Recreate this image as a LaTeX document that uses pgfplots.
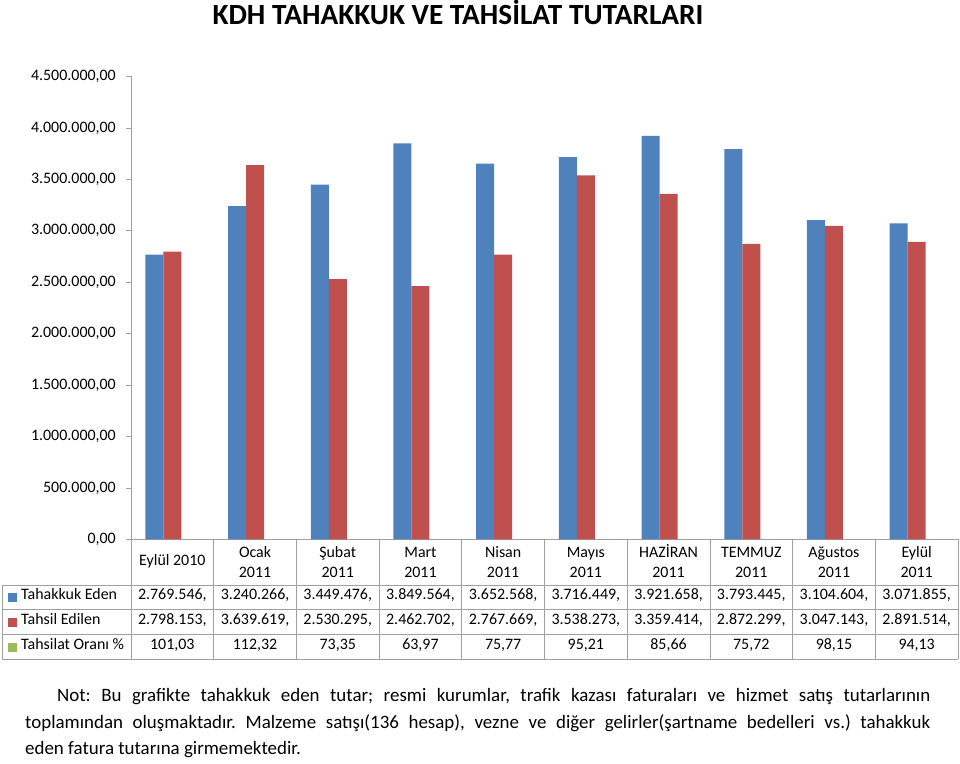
\documentclass[border=0pt]{standalone}
\usepackage{fontspec}
\setmainfont{Carlito}
\usepackage{pgfplots}
\pgfplotsset{compat=1.18}
\usepackage{pgfplotstable}
\definecolor{cblue}{HTML}{4F81BD}
\definecolor{cred}{HTML}{C0504D}
\definecolor{cgreen}{HTML}{9BBB59}
\definecolor{lgray}{HTML}{A0A0A0}

\pgfplotstableread{
x tahakkuk tahsil oran
0 2769546 2798153 101.03
1 3240266 3639619 112.32
2 3449476 2530295 73.35
3 3849564 2462702 63.97
4 3652568 2767669 75.77
5 3716449 3538273 95.21
6 3921658 3359414 85.66
7 3793445 2872299 75.72
8 3104604 3047143 98.15
9 3071855 2891514 94.13
}\data

\begin{document}
\frenchspacing
\begin{tikzpicture}[x=1bp,y=1bp]
\path (0,0) rectangle (960,761);
\node[anchor=base, inner sep=0pt, font=\fontsize{29.4}{35}\selectfont\bfseries] at (458,739) {KDH TAHAKKUK VE TAHSİLAT TUTARLARI};
\begin{axis}[
  at={(131bp,224bp)}, anchor=south west,
  scale only axis, width=827bp, height=463bp,
  ymin=0, ymax=4500000, xmin=-0.5, xmax=9.5,
  ytick={0,500000,1000000,1500000,2000000,2500000,3000000,3500000,4000000,4500000},
  xtick=\empty,
  axis x line=bottom, axis y line=left,
  axis line style={draw=lgray, line width=0.8bp, -},
  tick style={draw=lgray, line width=0.8bp},
  tick align=outside, major tick length=5bp,
  scaled y ticks=false,
  yticklabel style={font=\fontsize{16}{19}\selectfont, inner sep=0pt, xshift=-10bp},
  /pgf/number format/.cd, fixed, fixed zerofill, precision=2, use comma, 1000 sep={.}, assume math mode=true,
  /pgfplots/.cd,
  ybar=0pt, bar width=18bp,
  clip=false,
]
\addplot[fill=cblue, draw=none] table[x=x, y=tahakkuk] {\data};
\addplot[fill=cred, draw=none] table[x=x, y=tahsil] {\data};
\addplot[fill=cgreen, draw=none] table[x=x, y=oran] {\data};
\end{axis}
% data table grid
\begin{scope}[lgray, line width=0.8bp]
\foreach \k in {0,...,10} { \draw ({131+\k*82.7},224) -- ({131+\k*82.7},104); }
\draw (2,178) -- (957.7,178);
\draw (2,154) -- (957.7,154);
\draw (2,129) -- (957.7,129);
\draw (2,104) -- (957.7,104);
\draw (2,178) -- (2,104);
\end{scope}
\begin{scope}[font=\fontsize{16}{19.5}\selectfont, inner sep=0pt]
\node[anchor=mid] at ({131+0.5*82.7},200) {Eylül 2010};
\foreach \i/\h in {1/Ocak,2/Şubat,3/Mart,4/Nisan,5/Mayıs,6/HAZİRAN,7/TEMMUZ,8/Ağustos,9/Eylül}
  { \node[anchor=base] at ({131+(\i+0.5)*82.7},206) {\h};
    \node[anchor=base] at ({131+(\i+0.5)*82.7},185.5) {2011}; }
\foreach \i/\v in {0/{2.769.546,},1/{3.240.266,},2/{3.449.476,},3/{3.849.564,},4/{3.652.568,},5/{3.716.449,},6/{3.921.658,},7/{3.793.445,},8/{3.104.604,},9/{3.071.855,}}
  { \node[anchor=mid] at ({131+(\i+0.5)*82.7},166) {\v}; }
\foreach \i/\v in {0/{2.798.153,},1/{3.639.619,},2/{2.530.295,},3/{2.462.702,},4/{2.767.669,},5/{3.538.273,},6/{3.359.414,},7/{2.872.299,},8/{3.047.143,},9/{2.891.514,}}
  { \node[anchor=mid] at ({131+(\i+0.5)*82.7},141) {\v}; }
\foreach \i/\v in {0/{101,03},1/{112,32},2/{73,35},3/{63,97},4/{75,77},5/{95,21},6/{85,66},7/{75,72},8/{98,15},9/{94,13}}
  { \node[anchor=mid] at ({131+(\i+0.5)*82.7},116) {\v}; }
\fill[cblue] (7.5,161.5) rectangle (16.5,170.5);
\fill[cred] (7.5,136.5) rectangle (16.5,145.5);
\fill[cgreen] (7.5,111.5) rectangle (16.5,120.5);
\node[anchor=mid west] at (21,166) {Tahakkuk Eden};
\node[anchor=mid west] at (21,141) {Tahsil Edilen};
\node[anchor=mid west] at (21,116) {Tahsilat Oranı \%};
\end{scope}
% note
\begin{scope}[font=\fontsize{19}{23}\selectfont, inner sep=0pt]
\node[anchor=base west] at (57,62) {\makebox[873bp][s]{Not: Bu grafikte tahakkuk eden tutar; resmi kurumlar, trafik kazası faturaları ve hizmet satış tutarlarının}};
\node[anchor=base west] at (25,35) {\makebox[905bp][s]{toplamından oluşmaktadır. Malzeme satışı(136 hesap), vezne ve diğer gelirler(şartname bedelleri vs.) tahakkuk}};
\node[anchor=base west] at (25,9) {eden fatura tutarına girmemektedir.};
\end{scope}
\end{tikzpicture}
\end{document}
